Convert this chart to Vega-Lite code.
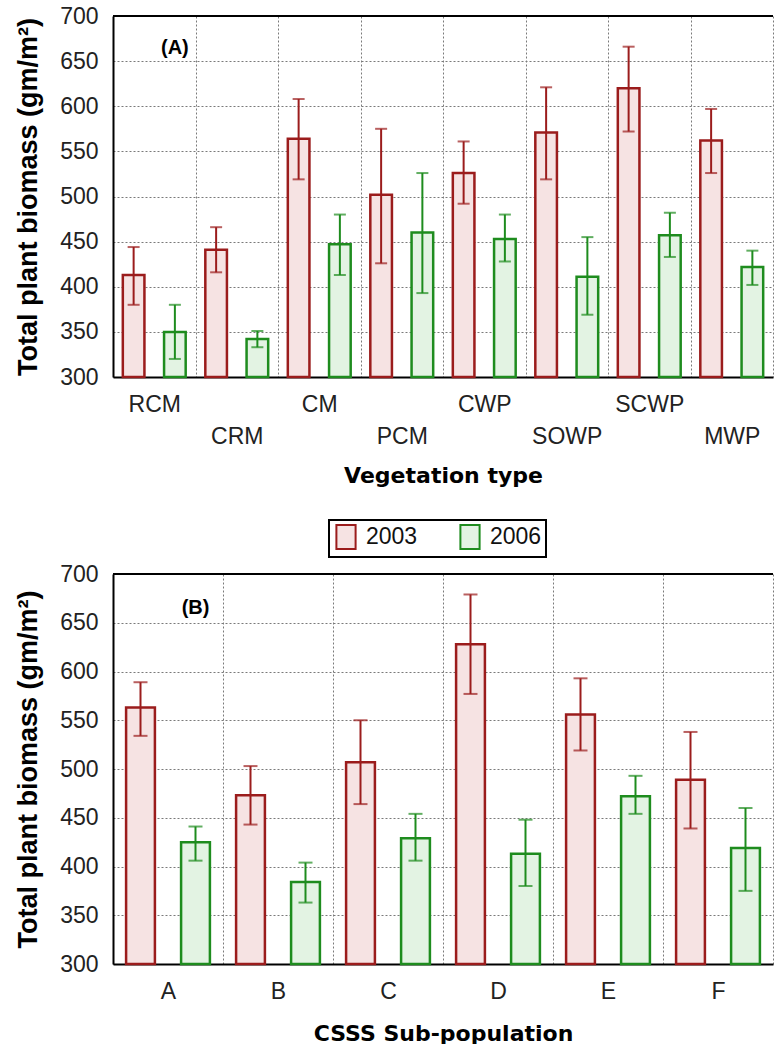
{
  "$schema": "https://vega.github.io/schema/vega-lite/v6.json",
  "padding": {"left": 14, "top": 5, "right": 0, "bottom": 0},
  "background": "white",
  "spacing": 33,
  "datasets": {
    "veg": [
      {"type": "RCM", "year": "2003", "mean": 413, "lo": 380, "hi": 444},
      {"type": "RCM", "year": "2006", "mean": 350, "lo": 320, "hi": 380},
      {"type": "CRM", "year": "2003", "mean": 441, "lo": 416, "hi": 466},
      {"type": "CRM", "year": "2006", "mean": 342, "lo": 333, "hi": 351},
      {"type": "CM", "year": "2003", "mean": 564, "lo": 519, "hi": 608},
      {"type": "CM", "year": "2006", "mean": 447, "lo": 413, "hi": 480},
      {"type": "PCM", "year": "2003", "mean": 502, "lo": 426, "hi": 575},
      {"type": "PCM", "year": "2006", "mean": 460, "lo": 393, "hi": 526},
      {"type": "CWP", "year": "2003", "mean": 526, "lo": 492, "hi": 561},
      {"type": "CWP", "year": "2006", "mean": 453, "lo": 428, "hi": 480},
      {"type": "SOWP", "year": "2003", "mean": 571, "lo": 519, "hi": 621},
      {"type": "SOWP", "year": "2006", "mean": 411, "lo": 369, "hi": 455},
      {"type": "SCWP", "year": "2003", "mean": 620, "lo": 572, "hi": 666},
      {"type": "SCWP", "year": "2006", "mean": 457, "lo": 433, "hi": 482},
      {"type": "MWP", "year": "2003", "mean": 562, "lo": 526, "hi": 597},
      {"type": "MWP", "year": "2006", "mean": 422, "lo": 402, "hi": 440}
    ],
    "sub": [
      {"pop": "A", "year": "2003", "mean": 563, "lo": 534, "hi": 589},
      {"pop": "A", "year": "2006", "mean": 425, "lo": 406, "hi": 441},
      {"pop": "B", "year": "2003", "mean": 473, "lo": 443, "hi": 503},
      {"pop": "B", "year": "2006", "mean": 384, "lo": 363, "hi": 404},
      {"pop": "C", "year": "2003", "mean": 507, "lo": 464, "hi": 550},
      {"pop": "C", "year": "2006", "mean": 429, "lo": 406, "hi": 454},
      {"pop": "D", "year": "2003", "mean": 628, "lo": 577, "hi": 679},
      {"pop": "D", "year": "2006", "mean": 413, "lo": 380, "hi": 448},
      {"pop": "E", "year": "2003", "mean": 556, "lo": 519, "hi": 593},
      {"pop": "E", "year": "2006", "mean": 472, "lo": 454, "hi": 493},
      {"pop": "F", "year": "2003", "mean": 489, "lo": 439, "hi": 538},
      {"pop": "F", "year": "2006", "mean": 419, "lo": 375, "hi": 460}
    ]
  },
  "resolve": {"scale": {"x": "independent", "y": "independent", "xOffset": "independent", "fill": "independent", "stroke": "independent", "color": "independent"}},
  "config": {
    "font": "Liberation Sans",
    "view": {"stroke": null},
    "axis": {
      "labelFont": "Liberation Sans", "labelFontSize": 23, "labelColor": "#222",
      "domainColor": "#000", "domainWidth": 2, "ticks": false,
      "gridColor": "#7a7a7a", "gridDash": [2, 2], "gridWidth": 1, "titleColor": "#000"
    },
    "axisX": {"labelAngle": 0, "tickBand": "extent", "labelPadding": 16, "titleFont": "DejaVu Sans", "titleFontSize": 22, "titleFontWeight": "bold", "titlePadding": 17},
    "axisY": {"titleFont": "Liberation Sans", "titleFontSize": 27, "titleFontWeight": "bold", "titlePadding": 17, "labelPadding": 15}
  },
  "vconcat": [
    {
      "width": 660,
      "height": 361,
      "layer": [
        {
          "data": {"values": [{}]},
          "mark": {"type": "rule", "color": "#000", "strokeWidth": 2},
          "encoding": {
            "y": {"datum": 700, "type": "quantitative", "scale": {"domain": [300, 700], "nice": false, "zero": false},
                  "axis": {"values": [300, 350, 400, 450, 500, 550, 600, 650, 700], "grid": true}, "title": "Total plant biomass (gm/m²)"}
          }
        },
        {
          "data": {"name": "veg"},
          "encoding": {
            "x": {"field": "type", "type": "nominal", "title": "Vegetation type",
                  "scale": {"domain": ["RCM", "CRM", "CM", "PCM", "CWP", "SOWP", "SCWP", "MWP"], "paddingInner": 0, "paddingOuter": 0},
                  "axis": {"grid": true, "labelLineHeight": 32,
                           "labelExpr": "indexof(['CRM','PCM','SOWP','MWP'], datum.value) >= 0 ? ['', datum.label] : datum.label"}},
            "xOffset": {"field": "year", "type": "nominal", "scale": {"domain": ["2003", "2006"], "paddingInner": 0.476, "paddingOuter": 0.238}}
          },
          "layer": [
            {
              "mark": {"type": "bar", "strokeWidth": 2.5},
              "encoding": {
                "y": {"field": "mean", "type": "quantitative", "title": "Total plant biomass (gm/m²)"},
                "y2": {"datum": 300},
                "fill": {"field": "year", "type": "nominal", "scale": {"domain": ["2003", "2006"], "range": ["#f6e3e3", "#e3f3e3"]}, "legend": null},
                "stroke": {"field": "year", "type": "nominal", "scale": {"domain": ["2003", "2006"], "range": ["#9b1c1c", "#1e8c1e"]}, "legend": null}
              }
            },
            {
              "mark": {"type": "rule", "strokeWidth": 2},
              "encoding": {
                "y": {"field": "lo", "type": "quantitative", "title": "Total plant biomass (gm/m²)"},
                "y2": {"field": "hi"},
                "color": {"field": "year", "type": "nominal", "scale": {"domain": ["2003", "2006"], "range": ["#9b1c1c", "#1e8c1e"]}, "legend": null}
              }
            },
            {
              "mark": {"type": "tick", "thickness": 2, "size": 12},
              "encoding": {
                "y": {"field": "lo", "type": "quantitative", "title": "Total plant biomass (gm/m²)"},
                "color": {"field": "year", "type": "nominal", "legend": null}
              }
            },
            {
              "mark": {"type": "tick", "thickness": 2, "size": 12},
              "encoding": {
                "y": {"field": "hi", "type": "quantitative", "title": "Total plant biomass (gm/m²)"},
                "color": {"field": "year", "type": "nominal", "legend": null}
              }
            }
          ]
        },
        {
          "data": {"values": [{"type": "RCM", "year": "2006", "v": 665, "t": "(A)"}]},
          "mark": {"type": "text", "font": "Liberation Sans", "fontWeight": "bold", "fontSize": 20, "color": "#000"},
          "encoding": {
            "x": {"field": "type", "type": "nominal", "title": "Vegetation type"},
            "xOffset": {"field": "year", "type": "nominal"},
            "y": {"field": "v", "type": "quantitative", "title": "Total plant biomass (gm/m²)"},
            "text": {"field": "t"}
          }
        }
      ]
    },
    {
      "width": 660,
      "height": 390,
      "layer": [
        {
          "data": {"values": [{}]},
          "mark": {"type": "rule", "color": "#000", "strokeWidth": 2},
          "encoding": {
            "y": {"datum": 700, "type": "quantitative", "scale": {"domain": [300, 700], "nice": false, "zero": false},
                  "axis": {"values": [300, 350, 400, 450, 500, 550, 600, 650, 700], "grid": true}, "title": "Total plant biomass (gm/m²)"}
          }
        },
        {
          "data": {"name": "sub"},
          "encoding": {
            "x": {"field": "pop", "type": "nominal", "title": "CSSS Sub-population",
                  "scale": {"domain": ["A", "B", "C", "D", "E", "F"], "paddingInner": 0, "paddingOuter": 0},
                  "axis": {"grid": true, "titlePadding": 20}},
            "xOffset": {"field": "year", "type": "nominal", "scale": {"domain": ["2003", "2006"], "paddingInner": 0.476, "paddingOuter": 0.238}}
          },
          "layer": [
            {
              "mark": {"type": "bar", "strokeWidth": 2.5},
              "encoding": {
                "y": {"field": "mean", "type": "quantitative", "title": "Total plant biomass (gm/m²)"},
                "y2": {"datum": 300},
                "fill": {"field": "year", "type": "nominal", "scale": {"domain": ["2003", "2006"], "range": ["#f6e3e3", "#e3f3e3"]},
                         "legend": {"orient": "none", "legendX": 216, "legendY": -54, "direction": "horizontal", "title": null,
                                    "symbolType": "M-0.8,-1L0.8,-1L0.8,1L-0.8,1Z", "symbolSize": 576, "symbolStrokeWidth": 2,
                                    "labelFontSize": 23, "labelFont": "Liberation Sans", "labelColor": "#111", "labelOffset": 7,
                                    "columnPadding": 38, "padding": 4, "strokeColor": "#000",
                                    "encode": {"symbols": {"update": {"stroke": {"signal": "datum.value === '2003' ? '#9b1c1c' : '#1e8c1e'"}}},
                                               "legend": {"update": {"strokeWidth": {"value": 2}}}}}},
                "stroke": {"field": "year", "type": "nominal", "scale": {"domain": ["2003", "2006"], "range": ["#9b1c1c", "#1e8c1e"]}, "legend": null}
              }
            },
            {
              "mark": {"type": "rule", "strokeWidth": 2},
              "encoding": {
                "y": {"field": "lo", "type": "quantitative", "title": "Total plant biomass (gm/m²)"},
                "y2": {"field": "hi"},
                "color": {"field": "year", "type": "nominal", "scale": {"domain": ["2003", "2006"], "range": ["#9b1c1c", "#1e8c1e"]}, "legend": null}
              }
            },
            {
              "mark": {"type": "tick", "thickness": 2, "size": 14},
              "encoding": {
                "y": {"field": "lo", "type": "quantitative", "title": "Total plant biomass (gm/m²)"},
                "color": {"field": "year", "type": "nominal", "legend": null}
              }
            },
            {
              "mark": {"type": "tick", "thickness": 2, "size": 14},
              "encoding": {
                "y": {"field": "hi", "type": "quantitative", "title": "Total plant biomass (gm/m²)"},
                "color": {"field": "year", "type": "nominal", "legend": null}
              }
            }
          ]
        },
        {
          "data": {"values": [{"pop": "A", "year": "2006", "v": 665, "t": "(B)"}]},
          "mark": {"type": "text", "font": "Liberation Sans", "fontWeight": "bold", "fontSize": 20, "color": "#000"},
          "encoding": {
            "x": {"field": "pop", "type": "nominal", "title": "CSSS Sub-population"},
            "xOffset": {"field": "year", "type": "nominal"},
            "y": {"field": "v", "type": "quantitative", "title": "Total plant biomass (gm/m²)"},
            "text": {"field": "t"}
          }
        }
      ]
    }
  ]
}
